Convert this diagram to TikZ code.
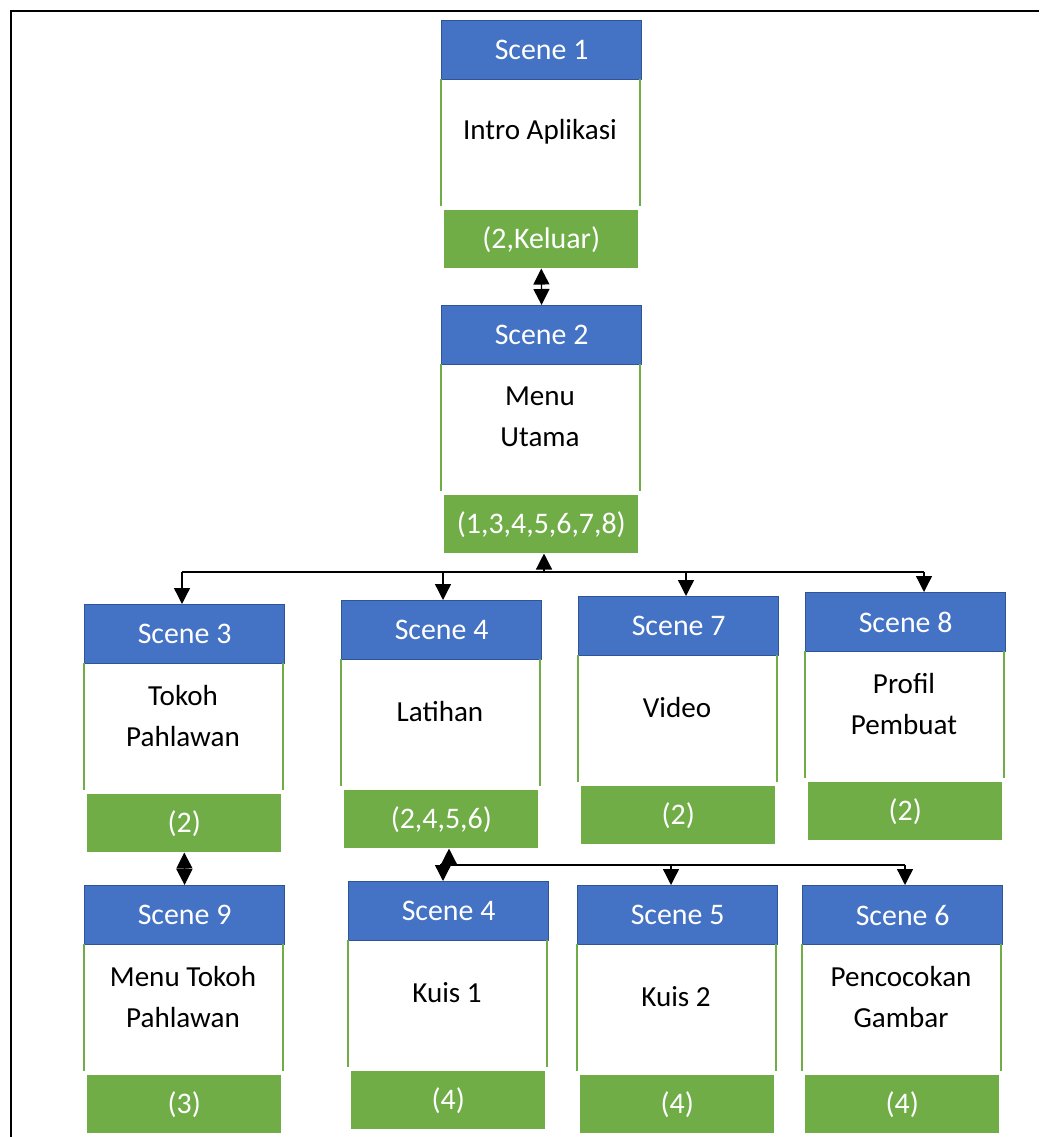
\documentclass[tikz,border=0pt]{standalone}
\usepackage{fontspec}
\setmainfont{Carlito}
\usetikzlibrary{arrows.meta}
\definecolor{hblue}{HTML}{4472C4}
\definecolor{hborder}{HTML}{2F5597}
\definecolor{fgreen}{HTML}{70AD47}
\tikzset{
  hdr/.style={rectangle, fill=hblue, draw=hborder, line width=0.9pt, minimum width=150pt, minimum height=44.25pt, inner sep=0pt, text=white, font=\fontsize{22.4}{26}\selectfont, anchor=north west},
  bodybox/.style={rectangle, minimum width=148.5pt, minimum height=94.5pt, inner sep=0pt, anchor=north west},
  side/.style={draw=fgreen, line width=1.5pt},
  bodytxt/.style={align=center, font=\fontsize{21.8}{30.75}\selectfont, text=black, inner sep=0pt},
  ftr/.style={rectangle, fill=fgreen, minimum width=145.5pt, minimum height=43.5pt, inner sep=0pt, text=white, font=\fontsize{22.4}{26}\selectfont, anchor=north west},
  conn/.style={line width=1pt, draw=black},
  tip/.style={conn, -{Triangle[length=12pt,width=12pt]}},
  dbl/.style={conn, {Triangle[length=12pt,width=12pt]}-{Triangle[length=12pt,width=12pt]}},
}
\newcommand{\scenebox}[6]{%
  \node[hdr] (h#1) at ({#2},{#3}) {#4};
  \node[bodybox] (b#1) at ({#2},{#3+59}) {};
  \draw[side] (b#1.north west) -- (b#1.south west) (b#1.north east) -- (b#1.south east);
  \node[bodytxt] (t#1) at ({#2+99},{#3+112}) {#5};
  \node[ftr] (f#1) at ({#2+3},{#3+190}) {#6};
}
\begin{document}
\begin{tikzpicture}[x=0.75pt,y=-0.75pt]
\useasboundingbox (0,0) rectangle (1039,1137);
% outer frame
\draw[line width=1.5pt] (10.5,1137) -- (10.5,11.5) -- (1039,11.5);

\scenebox{1}{441}{20}{Scene 1}{Intro Aplikasi}{(2,Keluar)}
\scenebox{2}{441}{305}{Scene 2}{Menu\\Utama}{(1,3,4,5,6,7,8)}
\scenebox{3}{84}{604}{Scene 3}{Tokoh\\Pahlawan}{(2)}
\scenebox{4}{341}{600}{Scene 4}{Latihan}{(2,4,5,6)}
\scenebox{7}{578}{596}{Scene 7}{Video}{(2)}
\scenebox{8}{805}{592}{Scene 8}{Profil\\Pembuat}{(2)}
\scenebox{9}{84}{885}{Scene 9}{Menu Tokoh\\Pahlawan}{(3)}
\scenebox{41}{348}{881}{Scene 4}{Kuis 1}{(4)}
\scenebox{5}{577}{885}{Scene 5}{Kuis 2}{(4)}
\scenebox{6}{802}{885}{Scene 6}{Pencocokan\\Gambar}{(4)}

% Scene 1 <-> Scene 2
\draw[dbl] (f1.south) -- (h2.north);
% Scene 3 <-> Scene 9
\draw[dbl] (f3.south) -- (h9.north);

% bus 1
\coordinate (busA) at (544,572);
\coordinate (busL) at (182,572);
\coordinate (busR) at (924,572);
\coordinate (d4) at (443,572);
\coordinate (d7) at (686,572);
\draw[conn] (busL) -- (busR);
\draw[tip] (busA) -- (busA |- f2.south);
\draw[tip] (busL) -- (busL |- h3.north);
\draw[tip] (d4) -- (d4 |- h4.north);
\draw[tip] (d7) -- (d7 |- h7.north);
\draw[tip] (busR) -- (busR |- h8.north);

% bus 2
\coordinate (busB) at (449,865);
\coordinate (busBL) at (440,865);
\coordinate (busBR) at (905,865);
\coordinate (e41) at (443,865);
\coordinate (e5) at (671,865);
\draw[conn] (busBL) -- (busBR);
\draw[tip] (busB) -- (busB |- f4.south);
\draw[tip] (e41) -- (e41 |- h41.north);
\draw[tip] (e5) -- (e5 |- h5.north);
\draw[tip] (busBR) -- (busBR |- h6.north);
\end{tikzpicture}
\end{document}
